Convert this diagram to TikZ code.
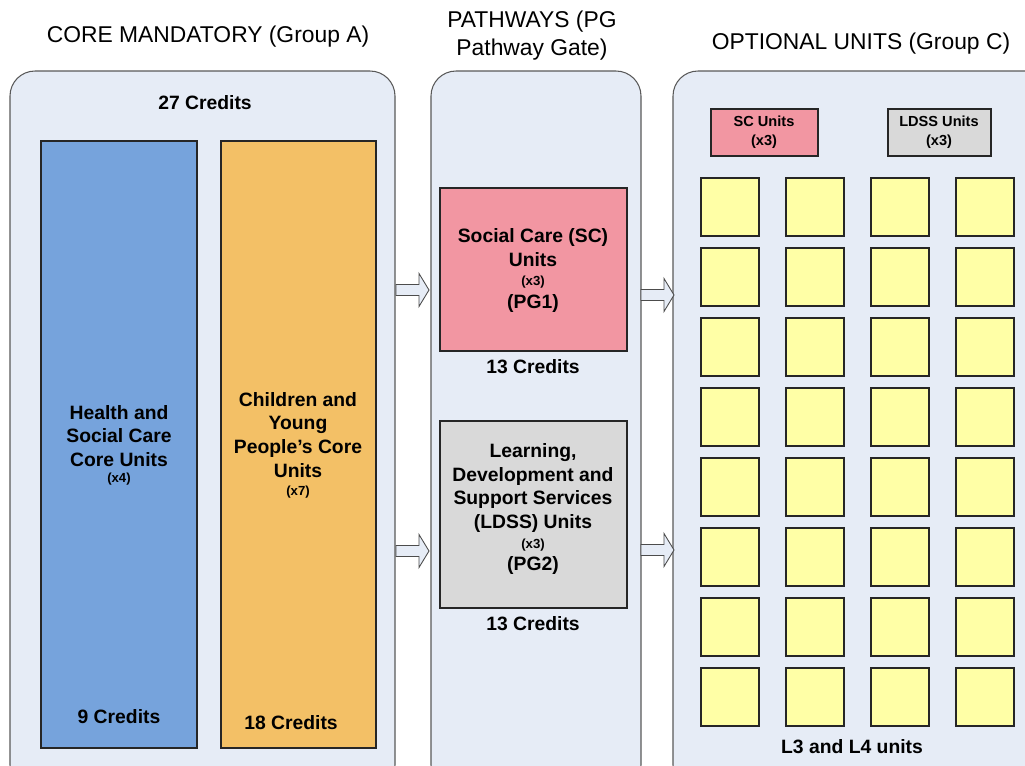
\documentclass[tikz,border=0pt]{standalone}
\usepackage{fontspec}
\setmainfont{Liberation Sans}
\usetikzlibrary{calc}
\definecolor{panelfill}{RGB}{230,236,246}
\definecolor{coreblue}{RGB}{118,163,220}
\definecolor{coreorange}{RGB}{243,192,102}
\definecolor{scpink}{RGB}{242,150,162}
\definecolor{ldssgrey}{RGB}{217,217,217}
\definecolor{unityellow}{RGB}{255,255,166}
\def\blockarrow(#1,#2){\draw[arrowbox] (#1,#2-5.5) -- (#1+23,#2-5.5) -- (#1+23,#2-16.5) -- (#1+33,#2) -- (#1+23,#2+16.5) -- (#1+23,#2+5.5) -- (#1,#2+5.5) -- cycle;}
\tikzset{
  panel/.style={draw=black!65, fill=panelfill, line width=0.6pt, rounded corners=0.5cm},
  unitbox/.style={draw=black!85, line width=0.6pt},
  arrowbox/.style={draw=black!70, fill=panelfill, line width=0.5pt},
  heading/.style={font=\fontsize{13}{15.9}\selectfont, align=center},
  boldlabel/.style={font=\fontsize{11}{13.6}\selectfont\bfseries, align=center},
  countlabel/.style={font=\fontsize{7.5}{9}\selectfont\bfseries, align=center},
  smalllabel/.style={font=\fontsize{8.3}{10.8}\selectfont\bfseries, align=center}
}
\begin{document}
\begin{tikzpicture}[x=0.02cm, y=-0.02cm]
		\useasboundingbox (0,0) rectangle (1025,765);
		\clip (0,0) rectangle (1025,765);
		%%%%% HEADINGS %%%%%
		\node[heading] (coreHead) at (208, 37) {CORE MANDATORY (Group A)};
		\node[heading] (pathHead) at (532, 36) {PATHWAYS (PG\\Pathway Gate)};
		\node[heading] (optHead) at (861, 44) {OPTIONAL UNITS (Group C)};
		
		%%%%% PANELS %%%%%
		\draw[panel] (10, 71) rectangle (395, 790);
		\draw[panel] (431, 71) rectangle (641, 790);
		\draw[panel] (673, 71) rectangle (1060, 790);
		
		%%%%% CORE MANDATORY %%%%%
		\node[boldlabel] (coreCredits) at (205, 103) {27 Credits};
		
		\draw[unitbox, fill=coreblue] (41, 141) rectangle (197, 748);
		\node[boldlabel] (hscText) at (119, 436) {Health and\\Social Care\\Core Units};
		\node[countlabel] (hscCount) at (119, 479) {(x4)};
		\node[boldlabel] (hscCredits) at (119, 717) {9 Credits};
		
		\draw[unitbox, fill=coreorange] (221, 141) rectangle (376, 748);
		\node[boldlabel] (cypText) at (298, 435) {Children and\\Young\\People’s Core\\Units};
		\node[countlabel] (cypCount) at (298, 492) {(x7)};
		\node[boldlabel] (cypCredits) at (291, 723) {18 Credits};
		
		%%%%% PATHWAYS %%%%%
		\blockarrow(396, 290);
		\blockarrow(396, 551);
		
		\draw[unitbox, fill=scpink] (440, 188) rectangle (627, 351);
		\node[boldlabel] (scText) at (533, 248) {Social Care (SC)\\Units};
		\node[countlabel] (scCount) at (533, 282) {(x3)};
		\node[boldlabel] (scGate) at (533, 303) {(PG1)};
		\node[boldlabel] (scCredits) at (533, 367) {13 Credits};
		
		\draw[unitbox, fill=ldssgrey] (440, 421) rectangle (627, 608);
		\node[boldlabel] (ldssText) at (533, 488) {Learning,\\Development and\\Support Services\\(LDSS) Units};
		\node[countlabel] (ldssCount) at (533, 545) {(x3)};
		\node[boldlabel] (ldssGate) at (533, 565) {(PG2)};
		\node[boldlabel] (ldssCredits) at (533, 624) {13 Credits};
		
		%%%%% OPTIONAL UNITS %%%%%
		\blockarrow(641, 295);
		\blockarrow(641, 550);
		
		\draw[unitbox, fill=scpink] (711, 109) rectangle (818, 156);
		\node[smalllabel] (scOpt) at (764, 132) {SC Units\\(x3)};
		\draw[unitbox, fill=ldssgrey] (888, 109) rectangle (991, 156);
		\node[smalllabel] (ldssOpt) at (939, 132) {LDSS Units\\(x3)};
		
		\foreach \i in {0,...,3}
		  \foreach \j in {0,...,7}
		    \draw[unitbox, fill=unityellow] (701+85*\i, 178+70*\j) rectangle ++(58, 58);
		
		\node[boldlabel] (levelText) at (852, 747) {L3 and L4 units};
		%%%%% END %%%%%
\end{tikzpicture}
\end{document}
